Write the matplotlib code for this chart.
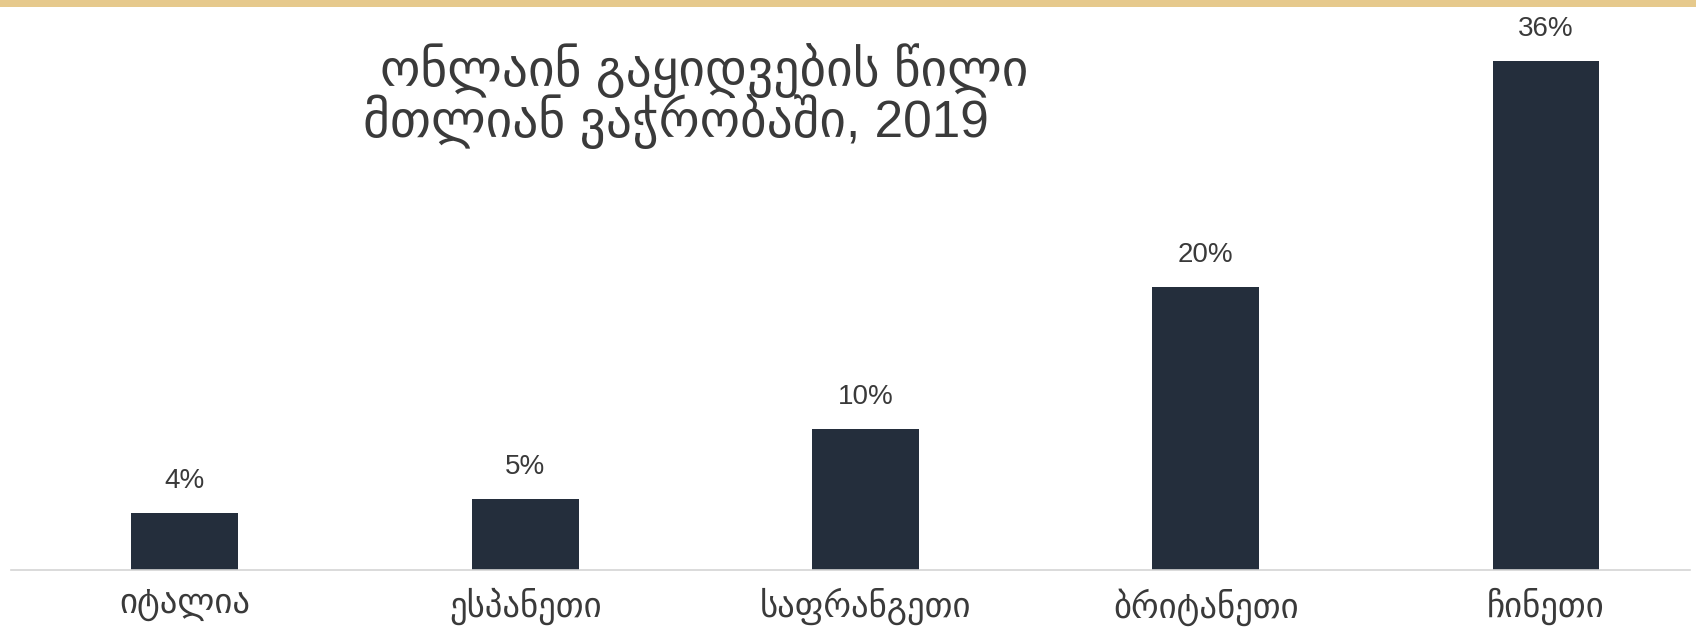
import matplotlib
matplotlib.use("Agg")
import matplotlib.pyplot as plt
from matplotlib.patches import Rectangle

plt.rcParams['font.family'] = ['Liberation Sans', 'DejaVu Sans']

# online sales share of total retail, 2019
countries = ['იტალია', 'ესპანეთი', 'საფრანგეთი', 'ბრიტანეთი', 'ჩინეთი']
shares = [4, 5, 10, 20, 36]
title_lines = ['ონლაინ გაყიდვების წილი', 'მთლიან ვაჭრობაში, 2019']

W, H = 1696, 630
bar_color = '#242e3c'
text_color = '#3a3a3a'

fig = plt.figure(figsize=(W / 100, H / 100), dpi=100)
fig.patch.set_facecolor('white')

# thin tan strip along the top edge
fig.patches.append(Rectangle((0, 1 - 7 / H), 1, 7 / H, transform=fig.transFigure,
                             facecolor='#e6c98c', edgecolor='none'))

ax = fig.add_axes([11 / W, 60 / H, (1690 - 11) / W, (H - 64) / H])
x = list(range(len(countries)))
bars = ax.bar(x, shares, width=0.314, color=bar_color)
ax.set_xlim(-0.511, 4.423)
ax.set_ylim(0, 40)

for rect, v in zip(bars, shares):
    ax.annotate(f'{v}%', (rect.get_x() + rect.get_width() / 2, v),
                xytext=(0, 18), textcoords='offset points',
                ha='center', va='baseline', fontsize=20, color=text_color)

ax.set_xticks(x)
ax.set_xticklabels(countries, fontsize=25, color=text_color)
ax.tick_params(axis='x', length=0, pad=13)
ax.set_yticks([])
for side in ['left', 'right', 'top']:
    ax.spines[side].set_visible(False)
ax.spines['bottom'].set_color('#d4d4d4')
ax.spines['bottom'].set_linewidth(1.2)

fig.text(1028 / W, 1 - 86 / H, title_lines[0], ha='right', va='baseline',
         fontsize=37, color=text_color)
fig.text(989 / W, 1 - 137 / H, title_lines[1], ha='right', va='baseline',
         fontsize=37, color=text_color)

fig.savefig('out.png', dpi=100)
